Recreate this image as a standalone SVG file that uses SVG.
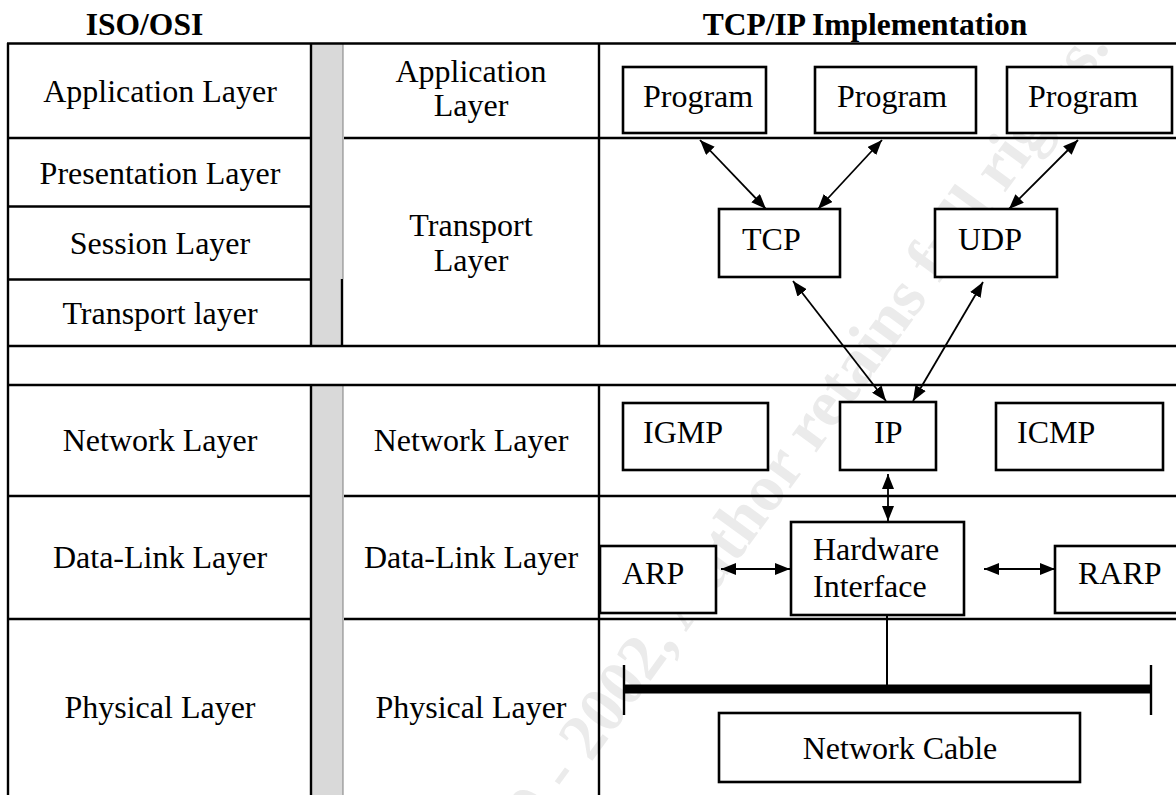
<svg xmlns="http://www.w3.org/2000/svg" width="1176" height="795" viewBox="0 0 1176 795">
<style>
.t{font-family:"Liberation Serif","Times New Roman",serif;font-size:32px;fill:#000}
.h{font-family:"Liberation Serif","Times New Roman",serif;font-size:31.5px;font-weight:bold;fill:#000}
.m{text-anchor:middle}
.ln{stroke:#000;stroke-width:2.4;fill:none}
.bx{stroke:#000;stroke-width:2.6;fill:#fff}
.ar{stroke:#000;stroke-width:1.8;fill:none;marker-start:url(#ah);marker-end:url(#ah)}
.wm{font-family:"Liberation Serif","Times New Roman",serif;font-size:66px;font-weight:bold;fill:#ebebeb}
</style>
<defs>
<marker id="ah" viewBox="0 0 15 12" refX="15" refY="6" markerWidth="15" markerHeight="12" markerUnits="userSpaceOnUse" orient="auto-start-reverse">
<path d="M0,0 L15,6 L0,12 z" fill="#000"/>
</marker>
</defs>
<rect width="1176" height="795" fill="#fff"/>
<text class="wm" x="1111" y="47" text-anchor="end" transform="rotate(-54 1111 47)">© SANS Institute 2000 - 2002, Author retains full rights.</text>

<g id="headers">
<text class="h m" x="144.5" y="35">ISO/OSI</text>
<text class="h m" x="865" y="35">TCP/IP Implementation</text>
</g>

<g id="table">
<rect x="312" y="44" width="31" height="302" fill="#d9d9d9"/>
<rect x="312" y="385" width="31" height="410" fill="#d9d9d9"/>
<line x1="343" y1="44" x2="343" y2="279" stroke="#7f7f7f" stroke-width="1"/>
<line x1="343" y1="385" x2="343" y2="795" stroke="#7f7f7f" stroke-width="1"/>
<line class="ln" x1="342" y1="279" x2="342" y2="346"/>
<line class="ln" x1="7" y1="43.5" x2="1176" y2="43.5"/>
<line class="ln" x1="8" y1="43" x2="8" y2="795"/>
<line class="ln" x1="311" y1="43" x2="311" y2="346"/>
<line class="ln" x1="311" y1="385" x2="311" y2="795"/>
<line class="ln" x1="599" y1="43" x2="599" y2="346"/>
<line class="ln" x1="599" y1="385" x2="599" y2="795"/>
<line class="ln" x1="8" y1="138" x2="311" y2="138"/>
<line class="ln" x1="344" y1="138" x2="1176" y2="138"/>
<line class="ln" x1="8" y1="206.5" x2="311" y2="206.5"/>
<line class="ln" x1="8" y1="279.5" x2="311" y2="279.5"/>
<line class="ln" x1="7" y1="346" x2="1176" y2="346"/>
<line class="ln" x1="7" y1="385" x2="1176" y2="385"/>
<line class="ln" x1="8" y1="496" x2="311" y2="496"/>
<line class="ln" x1="344" y1="496" x2="1176" y2="496"/>
<line class="ln" x1="8" y1="619" x2="311" y2="619"/>
<line class="ln" x1="344" y1="619" x2="1176" y2="619"/>
</g>

<g id="osi-labels">
<text class="t m" x="160" y="102">Application Layer</text>
<text class="t m" x="160" y="184">Presentation Layer</text>
<text class="t m" x="160" y="254">Session Layer</text>
<text class="t m" x="160" y="324">Transport layer</text>
<text class="t m" x="160" y="451">Network Layer</text>
<text class="t m" x="160" y="568">Data-Link Layer</text>
<text class="t m" x="160" y="718">Physical Layer</text>
</g>

<g id="tcpip-labels">
<text class="t m" x="471" y="82">Application</text>
<text class="t m" x="471" y="116">Layer</text>
<text class="t m" x="471" y="236">Transport</text>
<text class="t m" x="471" y="271">Layer</text>
<text class="t m" x="471" y="451">Network Layer</text>
<text class="t m" x="471" y="568">Data-Link Layer</text>
<text class="t m" x="471" y="718">Physical Layer</text>
</g>

<g id="connectors">
<line class="ar" x1="700" y1="140" x2="766" y2="209"/>
<line class="ar" x1="882" y1="140" x2="818" y2="209"/>
<line class="ar" x1="1078" y1="140" x2="1009" y2="209"/>
<line class="ar" x1="793" y1="281" x2="886" y2="401"/>
<line class="ar" x1="983" y1="282" x2="913" y2="401"/>
<line class="ar" x1="888" y1="474" x2="888" y2="521"/>
<line class="ar" x1="721" y1="569" x2="790" y2="569"/>
<line class="ar" x1="984" y1="569" x2="1055" y2="569"/>
<line x1="887" y1="615" x2="887" y2="689" stroke="#000" stroke-width="2"/>
</g>

<g id="program1"><rect class="bx" x="623" y="67" width="143" height="66"/><text class="t" x="643" y="107">Program</text></g>
<g id="program2"><rect class="bx" x="815" y="67" width="161" height="66"/><text class="t" x="837" y="107">Program</text></g>
<g id="program3"><rect class="bx" x="1007" y="67" width="165" height="66"/><text class="t" x="1028" y="107">Program</text></g>
<g id="tcp"><rect class="bx" x="719" y="209" width="121" height="68"/><text class="t" x="742" y="250">TCP</text></g>
<g id="udp"><rect class="bx" x="935" y="209" width="122" height="68"/><text class="t" x="958" y="250">UDP</text></g>
<g id="igmp"><rect class="bx" x="623" y="403" width="145" height="67"/><text class="t" x="643" y="443">IGMP</text></g>
<g id="ip"><rect class="bx" x="840" y="402" width="96" height="68"/><text class="t" x="874" y="443">IP</text></g>
<g id="icmp"><rect class="bx" x="996" y="403" width="167" height="67"/><text class="t" x="1017" y="443">ICMP</text></g>
<g id="arp"><rect class="bx" x="600" y="546" width="116" height="67"/><text class="t" x="622" y="584">ARP</text></g>
<g id="hardware"><rect class="bx" x="791" y="522" width="173" height="93"/><text class="t" x="813" y="560">Hardware</text><text class="t" x="813" y="597">Interface</text></g>
<g id="rarp"><rect class="bx" x="1055" y="546" width="125" height="67"/><text class="t" x="1078" y="584">RARP</text></g>
<g id="bus">
<line x1="624" y1="689" x2="1151" y2="689" stroke="#000" stroke-width="9"/>
<line x1="624" y1="665" x2="624" y2="715" stroke="#000" stroke-width="2.4"/>
<line x1="1151" y1="665" x2="1151" y2="715" stroke="#000" stroke-width="2.4"/>
</g>
<g id="network-cable"><rect class="bx" x="719" y="713" width="361" height="69"/><text class="t m" x="900" y="759">Network Cable</text></g>
</svg>
